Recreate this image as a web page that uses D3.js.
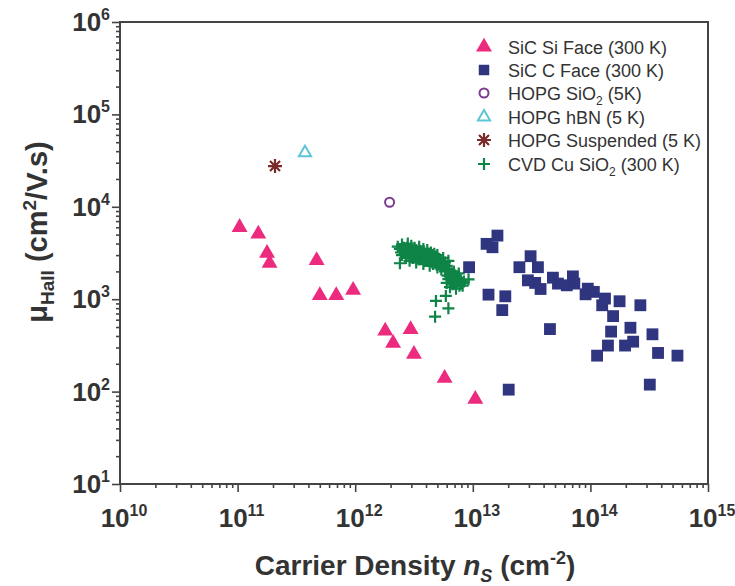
<!DOCTYPE html>
<html>
<head>
<meta charset="utf-8">
<script src="https://cdn.jsdelivr.net/npm/d3@7"></script>
<style>
  body { margin: 0; background: #fff; }
  text { font-family: "Liberation Sans", Arial, sans-serif; fill: #333; }
</style>
</head>
<body>
<div id="chart"></div>
<script>
// data (x: carrier density cm^-2, y: Hall mobility cm^2/V.s)
var siFaceX = [1.04e11, 1.5e11, 1.78e11, 1.87e11, 4.7e11, 5.0e11, 6.9e11, 9.6e11, 1.8e12, 2.1e12, 2.96e12, 3.16e12, 5.76e12, 1.05e13];
var siFaceY = [6000, 5080, 3150, 2450, 2630, 1100, 1100, 1250, 453, 334, 472, 254, 140, 83];

var cFaceX = [9.3e12, 1.62e13, 1.31e13, 1.47e13, 1.36e13, 1.89e13, 1.78e13, 4.53e13, 2.02e13, 2.49e13,
  3.1e13, 3.58e13, 2.94e13, 3.39e13, 3.77e13, 4.8e13, 5.3e13, 6.3e13, 7.1e13, 7.3e13,
  9.5e13, 9.1e13, 1.07e14, 1.33e14, 1.26e14, 1.77e14, 2.66e14, 1.56e14, 2.19e14, 1.5e14,
  3.37e14, 2.31e14, 1.97e14, 1.41e14, 1.14e14, 3.76e14, 5.5e14, 3.2e14];
var cFaceY = [2220, 4880, 3970, 3650, 1120, 1075, 762, 475, 105, 2220,
  2920, 2220, 1600, 1500, 1290, 1710, 1475, 1413, 1766, 1475,
  1300, 1130, 1200, 1016, 860, 950, 860, 656, 491, 446,
  417, 347, 315, 315, 245, 262, 245, 119];

var hopgSiO2X = [1.96e12], hopgSiO2Y = [11200];
var hopgHbnX = [3.74e11], hopgHbnY = [38400];
var hopgSuspX = [2.08e11], hopgSuspY = [27600];

// CVD Cu on SiO2, x in units of 1e12
var cvdX = [2.3, 2.4, 2.5, 2.6, 2.7, 2.8, 2.9, 3.0, 3.1, 3.2, 3.3, 3.4, 3.5, 3.6, 3.7, 3.8, 3.9, 4.0, 4.1, 4.2,
  4.3, 4.4, 4.5, 4.6, 4.7, 4.8, 4.9, 5.0, 5.2, 5.4, 5.6, 5.8, 6.0, 6.2,
  2.5, 2.7, 2.9, 3.1, 3.3, 3.5, 3.8, 4.0, 4.3, 4.6, 5.0, 5.4,
  2.6, 2.8, 3.0, 3.2, 3.4, 3.6, 3.9, 4.2, 4.5, 4.8, 5.1, 5.5,
  2.45, 2.75, 3.05, 3.35, 3.65, 3.95, 4.25, 4.55, 4.85, 5.3, 5.7, 6.1,
  5.8, 6.1, 6.3, 6.5, 6.7, 6.9, 7.1, 7.3, 7.5, 7.7, 7.9, 8.1, 6.0, 6.4, 6.8, 7.2, 8.4, 6.6,
  6.2, 6.6, 7.0, 7.4, 7.8, 8.2, 6.9, 7.6,
  2.4, 4.86, 5.9, 6.2, 4.78, 9.2];
var cvdY = [3700, 3500, 3900, 3600, 3300, 4000, 3500, 3800, 3200, 3600, 3400, 3000, 3700, 3300, 2900, 3500, 3100, 2800, 3400, 3000,
  2700, 3200, 2900, 2600, 3100, 2800, 2500, 3000, 2700, 2400, 2800, 2500, 2300, 2600,
  3000, 2800, 2600, 2800, 2500, 2700, 2400, 2600, 2300, 2400, 2200, 2100,
  3300, 3100, 2900, 3100, 2850, 3000, 2650, 2800, 2550, 2600, 2450, 2350,
  3200, 3600, 3300, 3050, 3150, 2950, 3100, 2750, 2900, 2500, 2300, 2150,
  2000, 1800, 2100, 1700, 1900, 1600, 1800, 1500, 1700, 1400, 1600, 1500, 1500, 1350, 1450, 1300, 1550, 1600,
  1650, 1850, 1550, 1650, 1450, 1400, 2000, 1900,
  2450, 957, 1084, 796, 647, 1640];

var xTicks = [1e10, 1e11, 1e12, 1e13, 1e14, 1e15];
var yTicks = [1e1, 1e2, 1e3, 1e4, 1e5, 1e6];

var svgWidth = 735;
var svgHeight = 586;
var margin = { top: 22, right: 27, bottom: 102, left: 120 };
var width = svgWidth - margin.left - margin.right;
var height = svgHeight - margin.top - margin.bottom;

var svg = d3.select("#chart").append("svg")
  .attr("width", svgWidth)
  .attr("height", svgHeight);

var g = svg.append("g")
  .attr("transform", `translate(${margin.left}, ${margin.top})`);

var x = d3.scaleLog().domain([1e10, 1e15]).range([0, width]);
var y = d3.scaleLog().domain([1e1, 1e6]).range([height, 0]);

var axisColor = "#444";

// minor ticks
var xMinor = x.ticks().filter(v => xTicks.indexOf(v) < 0);
var yMinor = y.ticks().filter(v => yTicks.indexOf(v) < 0);

function styleAxis(sel) {
  sel.select(".domain").remove();
  sel.selectAll("line").attr("stroke", axisColor).attr("stroke-width", 1.6);
  sel.selectAll("text").remove();
}

g.append("g").attr("transform", `translate(0, ${height})`)
  .call(d3.axisBottom(x).tickValues(xMinor).tickSize(4).tickFormat(""))
  .call(styleAxis);
g.append("g").attr("transform", `translate(0, ${height})`)
  .call(d3.axisBottom(x).tickValues(xTicks).tickSize(8).tickFormat(""))
  .call(styleAxis);
g.append("g")
  .call(d3.axisLeft(y).tickValues(yMinor).tickSize(4).tickFormat(""))
  .call(styleAxis);
g.append("g")
  .call(d3.axisLeft(y).tickValues(yTicks).tickSize(8).tickFormat(""))
  .call(styleAxis);

// frame
g.append("rect")
  .attr("width", width)
  .attr("height", height)
  .attr("fill", "none")
  .attr("stroke", axisColor)
  .attr("stroke-width", 2);

// tick labels with superscript exponents
xTicks.forEach(function(v) {
  var t = g.append("text")
    .attr("x", x(v) + 4)
    .attr("y", height + 43)
    .attr("text-anchor", "middle")
    .style("font-size", "26px")
    .style("font-weight", "bold");
  t.append("tspan").text("10");
  t.append("tspan").attr("dy", -11).style("font-size", "16px").text(Math.round(Math.log10(v)));
});

yTicks.forEach(function(v) {
  var t = g.append("text")
    .attr("x", -10)
    .attr("y", y(v) + 9)
    .attr("text-anchor", "end")
    .style("font-size", "26px")
    .style("font-weight", "bold");
  t.append("tspan").text("10");
  t.append("tspan").attr("dy", -11).style("font-size", "16px").text(Math.round(Math.log10(v)));
});

// axis titles
var yTitle = svg.append("text")
  .attr("transform", `translate(47, 232) rotate(-90)`)
  .attr("text-anchor", "middle")
  .style("font-size", "29px")
  .style("font-weight", "bold");
yTitle.append("tspan").text("\u03bc");
yTitle.append("tspan").attr("dy", 7).style("font-size", "19px").text("Hall");
yTitle.append("tspan").attr("dy", -7).text(" (cm");
yTitle.append("tspan").attr("dy", -11).style("font-size", "19px").text("2");
yTitle.append("tspan").attr("dy", 11).text("/V.s)");

var xTitle = svg.append("text")
  .attr("x", 415)
  .attr("y", 575)
  .attr("text-anchor", "middle")
  .style("font-size", "28px")
  .style("font-weight", "bold");
xTitle.append("tspan").text("Carrier Density ");
xTitle.append("tspan").style("font-style", "italic").text("n");
xTitle.append("tspan").attr("dy", 7).style("font-style", "italic").style("font-size", "18px").text("S");
xTitle.append("tspan").attr("dy", -7).text(" (cm");
xTitle.append("tspan").attr("dy", -11).style("font-size", "18px").text("-2");
xTitle.append("tspan").attr("dy", 11).text(")");

// marker shapes
var triPath = d3.symbol().type(d3.symbolTriangle).size(110)();
var sqPath = d3.symbol().type(d3.symbolSquare).size(140)();
var plusPath = "M-6,0H6M0,-6V6";
var starPath = "M-7,0H7M0,-7V7M-5,-5L5,5M-5,5L5,-5";
var openTriPath = d3.symbol().type(d3.symbolTriangle).size(65)();

var colors = {
  si: "#ec2a7e",
  c: "#30357f",
  sio2: "#7b3b8e",
  hbn: "#5cc5d6",
  susp: "#7a2a28",
  cvd: "#0f8447"
};

function zip(xs, ys) { return xs.map((v, i) => [v, ys[i]]); }

var plot = g.append("g");

plot.selectAll(".cvd").data(zip(cvdX, cvdY)).enter().append("path")
  .attr("class", "cvd")
  .attr("d", plusPath)
  .attr("transform", d => `translate(${x(d[0] * 1e12)}, ${y(d[1])})`)
  .attr("stroke", colors.cvd)
  .attr("stroke-width", 2.2)
  .attr("fill", "none");

plot.selectAll(".cface").data(zip(cFaceX, cFaceY)).enter().append("path")
  .attr("class", "cface")
  .attr("d", sqPath)
  .attr("transform", d => `translate(${x(d[0])}, ${y(d[1])})`)
  .attr("fill", colors.c);

plot.selectAll(".siface").data(zip(siFaceX, siFaceY)).enter().append("path")
  .attr("class", "siface")
  .attr("d", triPath)
  .attr("transform", d => `translate(${x(d[0])}, ${y(d[1])})`)
  .attr("fill", colors.si);

plot.selectAll(".hsio2").data(zip(hopgSiO2X, hopgSiO2Y)).enter().append("circle")
  .attr("class", "hsio2")
  .attr("cx", d => x(d[0]))
  .attr("cy", d => y(d[1]))
  .attr("r", 4.5)
  .attr("fill", "none")
  .attr("stroke", colors.sio2)
  .attr("stroke-width", 2);

plot.selectAll(".hbn").data(zip(hopgHbnX, hopgHbnY)).enter().append("path")
  .attr("class", "hbn")
  .attr("d", openTriPath)
  .attr("transform", d => `translate(${x(d[0])}, ${y(d[1])})`)
  .attr("fill", "none")
  .attr("stroke", colors.hbn)
  .attr("stroke-width", 2);

plot.selectAll(".susp").data(zip(hopgSuspX, hopgSuspY)).enter().append("path")
  .attr("class", "susp")
  .attr("d", starPath)
  .attr("transform", d => `translate(${x(d[0])}, ${y(d[1])})`)
  .attr("fill", "none")
  .attr("stroke", colors.susp)
  .attr("stroke-width", 2.2);

// legend
var legendItems = [
  { label: ["SiC Si Face (300 K)"], kind: "si" },
  { label: ["SiC C Face (300 K)"], kind: "c" },
  { label: ["HOPG SiO", "2", " (5K)"], kind: "sio2" },
  { label: ["HOPG hBN (5 K)"], kind: "hbn" },
  { label: ["HOPG Suspended (5 K)"], kind: "susp" },
  { label: ["CVD Cu SiO", "2", " (300 K)"], kind: "cvd" }
];
var legendY = [47, 70, 93, 117, 140, 164];

var legend = svg.append("g");
legendItems.forEach(function(item, i) {
  var row = legend.append("g").attr("transform", `translate(484, ${legendY[i]})`);
  if (item.kind === "si") row.append("path").attr("d", triPath).attr("fill", colors.si);
  if (item.kind === "c") row.append("path").attr("d", d3.symbol().type(d3.symbolSquare).size(110)()).attr("fill", colors.c);
  if (item.kind === "sio2") row.append("circle").attr("r", 4.5).attr("fill", "none").attr("stroke", colors.sio2).attr("stroke-width", 2);
  if (item.kind === "hbn") row.append("path").attr("d", openTriPath).attr("fill", "none").attr("stroke", colors.hbn).attr("stroke-width", 2);
  if (item.kind === "susp") row.append("path").attr("d", starPath).attr("fill", "none").attr("stroke", colors.susp).attr("stroke-width", 2.2);
  if (item.kind === "cvd") row.append("path").attr("d", plusPath).attr("fill", "none").attr("stroke", colors.cvd).attr("stroke-width", 2.2);

  var t = row.append("text").attr("x", 24).attr("y", 6.5).style("font-size", "18px");
  t.append("tspan").text(item.label[0]);
  if (item.label.length > 1) {
    t.append("tspan").attr("dy", 5).style("font-size", "12px").text(item.label[1]);
    t.append("tspan").attr("dy", -5).text(item.label[2]);
  }
});
</script>
</body>
</html>
